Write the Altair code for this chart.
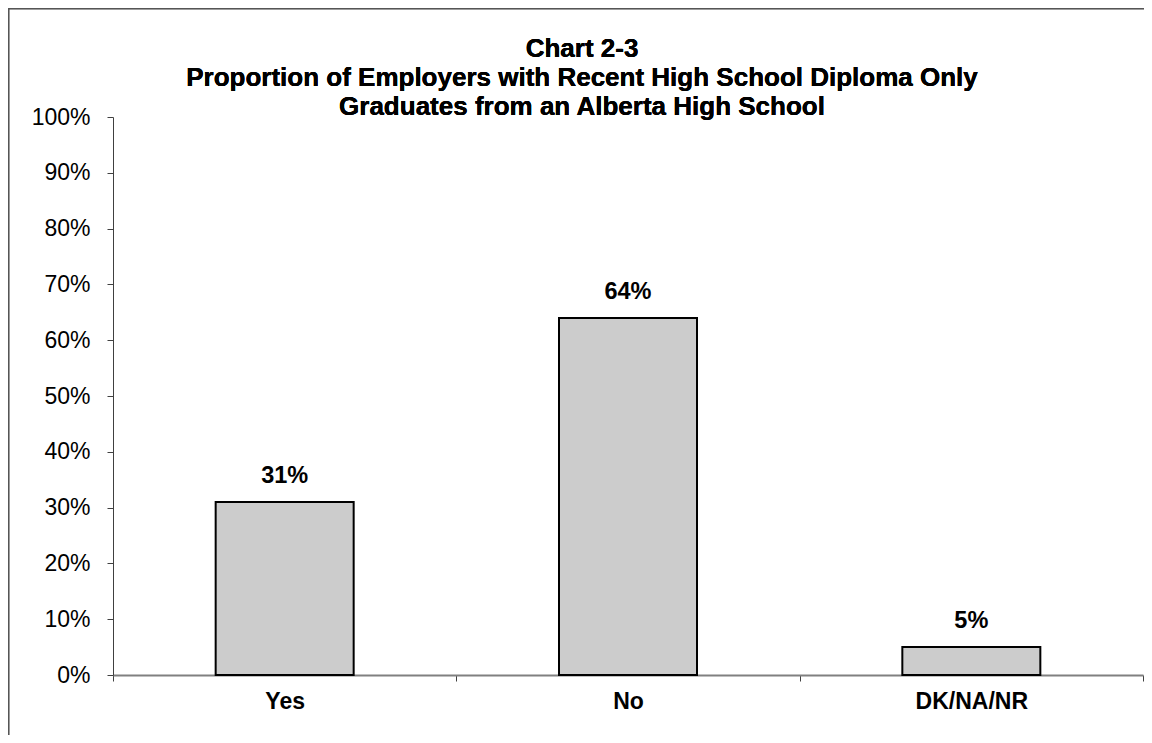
import altair as alt
import pandas as pd

categories = ["Yes", "No", "DK/NA/NR"]
values = [0.31, 0.64, 0.05]
labels = ["31%", "64%", "5%"]
title_lines = ["Chart 2-3",
               "Proportion of Employers with Recent High School Diploma Only",
               "Graduates from an Alberta High School"]

df = pd.DataFrame({"cat": categories, "val": values, "lab": labels})

FONT = "Liberation Sans"

x_enc = alt.X("cat:N", sort=categories, title=None,
              scale=alt.Scale(paddingInner=0, paddingOuter=0),
              axis=alt.Axis(tickBand="extent", labelAngle=0, labelFont=FONT,
                            labelFontSize=23, labelFontWeight="bold", labelColor="black",
                            labelPadding=9, tickSize=6, tickColor="#404040",
                            domainColor="#808080", domainWidth=2))
y_enc = alt.Y("val:Q", title=None,
              scale=alt.Scale(domain=[0, 1], nice=False),
              axis=alt.Axis(values=[i / 10 for i in range(11)], format=".0%",
                            labelFont=FONT, labelFontSize=23, labelColor="black",
                            labelPadding=17, tickSize=6, tickColor="#404040",
                            domainColor="#404040", domainWidth=1, grid=False))

bars = alt.Chart(df).mark_bar(size=138, fill="#cccccc", stroke="black",
                              strokeWidth=2).encode(x=x_enc, y=y_enc)

text = alt.Chart(df).mark_text(font=FONT, fontSize=23.5, fontWeight="bold",
                               color="black", baseline="middle", dy=-26).encode(
    x=alt.X("cat:N", sort=categories), y="val:Q", text="lab:N")

title_marks = []
for i, line in enumerate(title_lines):
    title_marks.append(
        alt.Chart(df).mark_text(font=FONT, fontSize=26, fontWeight="bold",
                                color="black", baseline="alphabetic",
                                align="center", text=line).encode(
            x=alt.value(469), y=alt.value(-60 + 29 * i)))

border_top = alt.Chart(df).mark_rule(color="#555555", strokeWidth=1.5).encode(
    x=alt.value(-104.5), x2=alt.value(1100), y=alt.value(-108.5))
border_left = alt.Chart(df).mark_rule(color="#555555", strokeWidth=1.5).encode(
    x=alt.value(-104.5), y=alt.value(-108.5), y2=alt.value(700))

chart = alt.layer(border_top, border_left, bars, text, *title_marks).properties(
    width=1030, height=558,
    autosize=alt.AutoSizeParams(type="none"),
    padding={"left": 105, "top": 109, "right": 1, "bottom": 60},
).configure(background="white", view=alt.ViewConfig(stroke=None))

chart.save("out.html", embed_options={"renderer": "svg", "actions": False})
